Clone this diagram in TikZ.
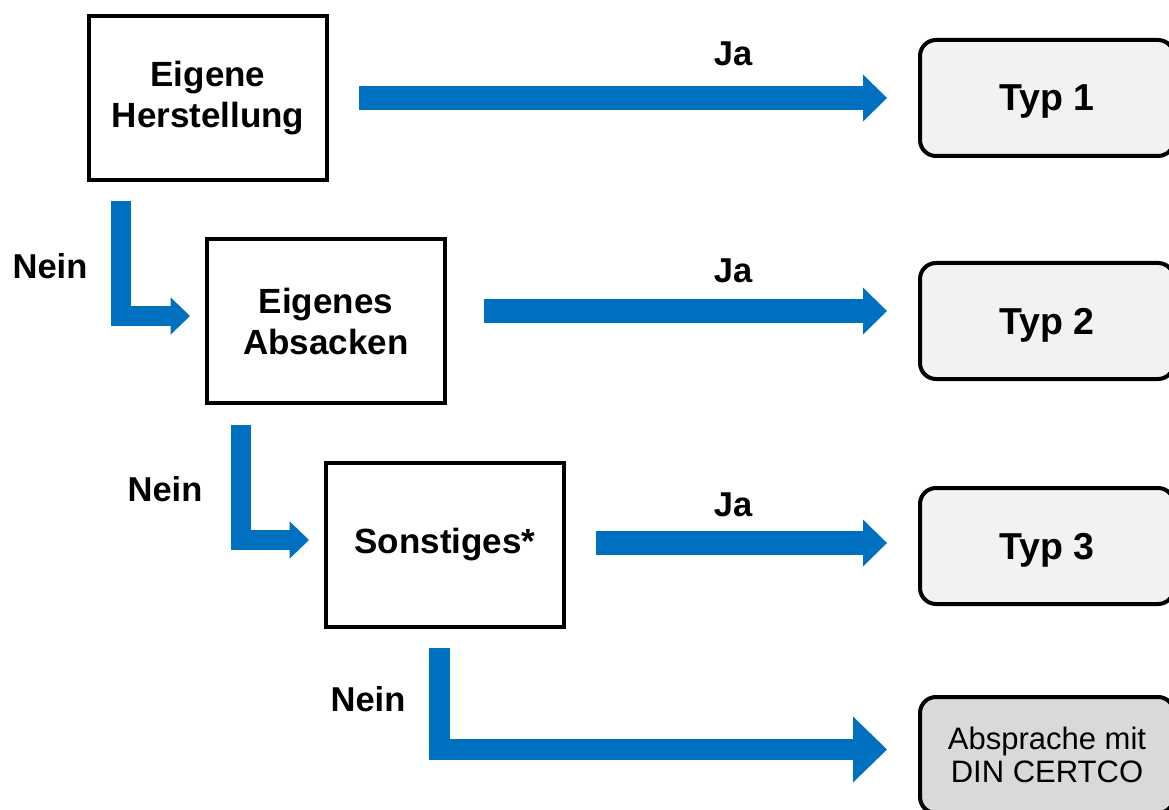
\documentclass[tikz,border=0pt]{standalone}
\usepackage{fontspec}
\setmainfont{Liberation Sans}
\usepackage{xcolor}
\usetikzlibrary{arrows.meta, positioning}
\definecolor{pfeilblau}{HTML}{0070C0}
\definecolor{typgrau}{HTML}{F2F2F2}
\definecolor{dingrau}{HTML}{D9D9D9}

\begin{document}
\begin{tikzpicture}[x=1pt, y=-1pt,
    frage/.style={draw, line width=4pt, minimum width=238pt, minimum height=164pt,
      align=center, font=\bfseries\fontsize{35}{41}\selectfont},
    typ/.style={draw, line width=4pt, rounded corners=16pt, fill=typgrau,
      minimum width=254pt, minimum height=116pt, align=center, text depth=0pt,
      font=\bfseries\fontsize{37.5}{45}\selectfont},
    lbl/.style={inner sep=0pt, font=\bfseries\fontsize{34.5}{41}\selectfont},
    jpfeil/.style={draw=pfeilblau, line width=24pt,
      -{Triangle[length=24pt 0 0, width=47pt 0 0, line width=0pt 0 0]}},
    npfeil/.style={draw=pfeilblau, line width=19.5pt, line join=miter,
      -{Triangle[length=19.5pt 0 0, width=37.5pt 0 0, line width=0pt 0 0]}}]

  \useasboundingbox (0,0) rectangle (1169,810);

  % Fragen
  \node[frage] (A) at (208,98) {Eigene\\Herstellung};
  \node[frage, below=55pt of A, xshift=118pt] (B) {Eigenes\\Absacken};
  \node[frage, below=56pt of B, xshift=119pt] (C) {Sonstiges*};

  % Ergebnisse
  \node[typ, right=589pt of A] (T1) {Typ 1};
  \node[typ, right=471pt of B] (T2) {Typ 2};
  \node[typ, right=352pt of C, yshift=-1pt] (T3) {Typ 3};
  \node[typ, fill=dingrau, below=89pt of T3,
    font=\fontsize{31}{33}\selectfont] (D) {Absprache mit\\DIN CERTCO};

  % Ja-Pfeile
  \draw[jpfeil, shorten <=30pt, shorten >=31pt] (A.east) -- (T1.west);
  \draw[jpfeil, shorten <=37pt, shorten >=31pt]
    ([yshift=10pt]B.east) -- ([yshift=10pt]T2.west);
  \draw[jpfeil, shorten <=30pt, shorten >=31pt]
    ([yshift=2pt]C.east) -- ([yshift=3pt]T3.west);
  \node[lbl] (J1) at (733,54) {Ja};
  \node[lbl] (J2) at (733,271) {Ja};
  \node[lbl] (J3) at (733,505) {Ja};

  % Nein-Pfeile
  \draw[npfeil, shorten >=15pt]
    ([xshift=34pt, yshift=-19pt]A.south west) |- ([yshift=5pt]B.west);
  \draw[npfeil, shorten >=15pt]
    ([xshift=36pt, yshift=-20pt]B.south west) |- ([yshift=5pt]C.west);
  \draw[npfeil, line width=21pt, shorten >=31pt,
    -{Triangle[length=34pt 0 0, width=66pt 0 0, line width=0pt 0 0]}]
    ([xshift=115.5pt, yshift=-19pt]C.south west) |- ([yshift=5.5pt]D.west);
  \node[lbl] (N1) at (50,266) {Nein};
  \node[lbl] (N2) at (165,489) {Nein};
  \node[lbl] (N3) at (368,699) {Nein};

\end{tikzpicture}
\end{document}
